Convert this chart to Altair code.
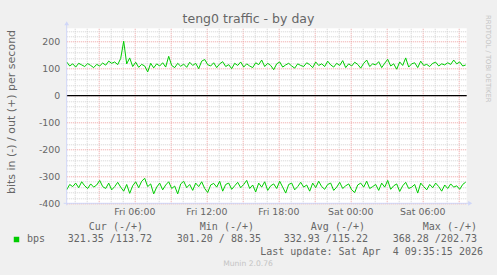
import altair as alt
import pandas as pd

# ---------------- data ----------------
START_HOUR = 0.367   # hours after Fri 00:00 at the left edge
STEP_HOURS = 0.25
END_HOUR = 33.7

out_bps = [
    125, 110, 118, 106, 120, 114, 108, 119, 112, 104,
    116, 110, 121, 113, 128, 120, 125, 115, 138, 202,
    118, 140, 108, 124, 105, 116, 110, 88, 120, 103,
    118, 110, 122, 106, 146, 112, 104, 120, 109, 117,
    105, 124, 112, 120, 100, 128, 134, 115, 110, 122,
    104, 118, 126, 108, 115, 100, 120, 112, 125, 106,
    118, 110, 104, 122, 115, 132, 108, 120, 112, 96,
    118, 125, 106, 114, 120, 110, 102, 118, 112, 108,
    122, 115, 104, 125, 112, 118, 108, 128, 114, 106,
    120, 112, 130, 104, 118, 110, 124, 116, 102, 120,
    132, 108, 118, 114, 126, 104, 120, 135, 110, 118,
    98, 125, 112, 140, 106, 118, 122, 104, 128, 112,
    116, 108, 120, 124, 110, 118, 114, 122, 116, 132,
    118, 125, 110, 113.72,
]
in_bps = [
    350, 330, 338, 325, 342, 320, 335, 345, 328, 340,
    332, 315, 338, 345, 325, 350, 338, 322, 340, 355,
    330, 363, 335, 320, 342, 318, 307, 338, 328, 365,
    340, 325, 350, 332, 320, 345, 336, 365, 328, 318,
    342, 330, 352, 325, 338, 320, 345, 360, 332, 326,
    340, 318, 355, 330, 325, 348, 335, 322, 342, 330,
    315, 345, 332, 358, 325, 340, 320, 352, 335, 328,
    345, 318, 340, 362, 330, 325, 350, 338, 322, 340,
    332, 355, 325, 342, 318, 338, 348, 330, 325, 352,
    340, 322, 345, 335, 328, 350, 360, 332, 325, 340,
    318, 345, 338, 330, 352, 325, 340, 315, 348, 335,
    328, 356, 335, 322, 345, 340, 330, 362, 325, 338,
    350, 330, 342, 325, 338, 355, 332, 345, 328, 340,
    335, 348, 330, 321.35,
]

x_label_hours = [6, 12, 18, 24, 30]
x_label_texts = ["Fri 06:00", "Fri 12:00", "Fri 18:00", "Sat 00:00", "Sat 06:00"]

title_text = "teng0 traffic - by day"
y_title_text = "bits in (-) / out (+) per second"
legend_headers = ["Cur (-/+)", "Min (-/+)", "Avg (-/+)", "Max (-/+)"]
legend_values = ["321.35 /113.72", "301.20 / 88.35", "332.93 /115.22", "368.28 /202.73"]
legend_name = "bps"
last_update_text = "Last update: Sat Apr  4 09:35:15 2026"
munin_text = "Munin 2.0.76"
rrd_text = "RRDTOOL / TOBI OETIKER"

# ---------------- layout / style ----------------
OX, OY = 66.7, 28.3          # plot origin in page pixels
W, H = 400, 175
FONT = "DejaVu Sans"
MONO = "DejaVu Sans Mono"
FONT_COLOR = "#666666"
AXIS_COLOR = "#CFD6F8"
GREEN = "#00CC00"
GRID_GRAY = "#d2d2d2"
GRID_RED = "#eea0a0"

df = pd.DataFrame({
    "hour": [START_HOUR + STEP_HOURS * i for i in range(len(out_bps))],
    "out": out_bps,
    "in_neg": [-v for v in in_bps],
})

xscale = alt.Scale(domain=[START_HOUR, END_HOUR], nice=False, zero=False)
yscale = alt.Scale(domain=[-400, 250], nice=False, zero=False)

label_expr = "''"
for h, t in reversed(list(zip(x_label_hours, x_label_texts))):
    label_expr = f"datum.value === {h} ? '{t}' : ({label_expr})"

x_axis = alt.Axis(
    values=list(range(1, 34)),
    grid=True,
    gridColor={"condition": {"test": "datum.value % 3 === 0", "value": GRID_RED}, "value": GRID_GRAY},
    gridDash=[1, 1],
    gridWidth=1,
    ticks=False,
    domain=False,
    labelExpr=label_expr,
    labelFont=FONT,
    labelFontSize=9.4,
    labelColor=FONT_COLOR,
    labelPadding=4,
    labelOverlap=False,
    labelFlush=False,
    title=None,
)
y_axis = alt.Axis(
    values=list(range(-400, 260, 20)),
    grid=True,
    gridColor={"condition": {"test": "datum.value % 100 === 0", "value": GRID_RED}, "value": GRID_GRAY},
    gridDash=[1, 1],
    gridWidth=1,
    ticks=False,
    domain=False,
    labelExpr="datum.value % 100 === 0 ? '' + datum.value : ''",
    labelFont=FONT,
    labelFontSize=9.4,
    labelColor=FONT_COLOR,
    labelPadding=7,
    labelOverlap=False,
    title=None,
)

base = alt.Chart(df)
out_line = base.mark_line(color=GREEN, strokeWidth=1).encode(
    x=alt.X("hour:Q", scale=xscale, axis=x_axis),
    y=alt.Y("out:Q", scale=yscale, axis=y_axis),
)
in_line = base.mark_line(color=GREEN, strokeWidth=1).encode(
    x=alt.X("hour:Q", scale=xscale, axis=x_axis),
    y=alt.Y("in_neg:Q", scale=yscale, axis=y_axis),
)

one = pd.DataFrame({"k": [0]})
zero_rule = alt.Chart(one).mark_rule(color="#000000", strokeWidth=1.3).encode(
    y=alt.Y("k:Q", scale=yscale, axis=y_axis),
)

axis_left = alt.Chart(one).mark_rule(color=AXIS_COLOR, strokeWidth=1).encode(
    x=alt.value(0), y=alt.value(-4), y2=alt.value(H + 2))
axis_bottom = alt.Chart(one).mark_rule(color=AXIS_COLOR, strokeWidth=1).encode(
    y=alt.value(H), x=alt.value(-3), x2=alt.value(W + 2))
arrow_up = alt.Chart(one).mark_point(shape="triangle-up", filled=True, color=AXIS_COLOR, size=22, opacity=1).encode(
    x=alt.value(0), y=alt.value(-5))
arrow_right = alt.Chart(one).mark_point(shape="triangle-right", filled=True, color=AXIS_COLOR, size=22, opacity=1).encode(
    x=alt.value(W + 3.5), y=alt.value(H))


def text_layer(txt, px, py, align="left", font=FONT, size=10, color=FONT_COLOR, angle=0):
    shown = txt.replace("  ", " \u00a0")  # keep double spaces visible in SVG
    return alt.Chart(pd.DataFrame({"t": [shown]})).mark_text(
        align=align, baseline="middle", font=font, fontSize=size, color=color, angle=angle
    ).encode(x=alt.value(px - OX), y=alt.value(py - OY), text="t:N")


texts = [
    text_layer(title_text, 248.5, 19, align="center", size=12.5),
    text_layer(y_title_text, 12, 112, align="center", size=11, angle=270),
    text_layer(rrd_text, 487.5, 15, align="left", size=6.8, color="#c4c4c4", angle=90),
    text_layer(legend_name, 27, 239.3, font=MONO),
    text_layer(last_update_text, 483, 251.7, align="right", font=MONO),
    text_layer(munin_text, 248, 264.3, align="center", size=7.6, color="#c4c4c4"),
]
for txt, xr in zip(legend_headers, [143, 254, 365, 477]):
    texts.append(text_layer(txt, xr, 227.3, align="right", font=MONO))
for txt, xr in zip(legend_values, [152, 261, 368, 477]):
    texts.append(text_layer(txt, xr, 239.3, align="right", font=MONO))

swatch = alt.Chart(one).mark_square(color=GREEN, size=30, opacity=1).encode(
    x=alt.value(16.5 - OX), y=alt.value(239.5 - OY))

chart = alt.layer(
    out_line, in_line, zero_rule, axis_left, axis_bottom, arrow_up, arrow_right, swatch, *texts
).properties(
    width=W, height=H,
    autosize=alt.AutoSizeParams(type="none"),
    padding={"left": OX, "top": OY, "right": 497 - OX - W, "bottom": 275 - OY - H},
    background="#F0F0F0",
).configure_view(fill="#FFFFFF", stroke=None)

chart.save("out.html", embed_options={"renderer": "svg", "actions": False})
